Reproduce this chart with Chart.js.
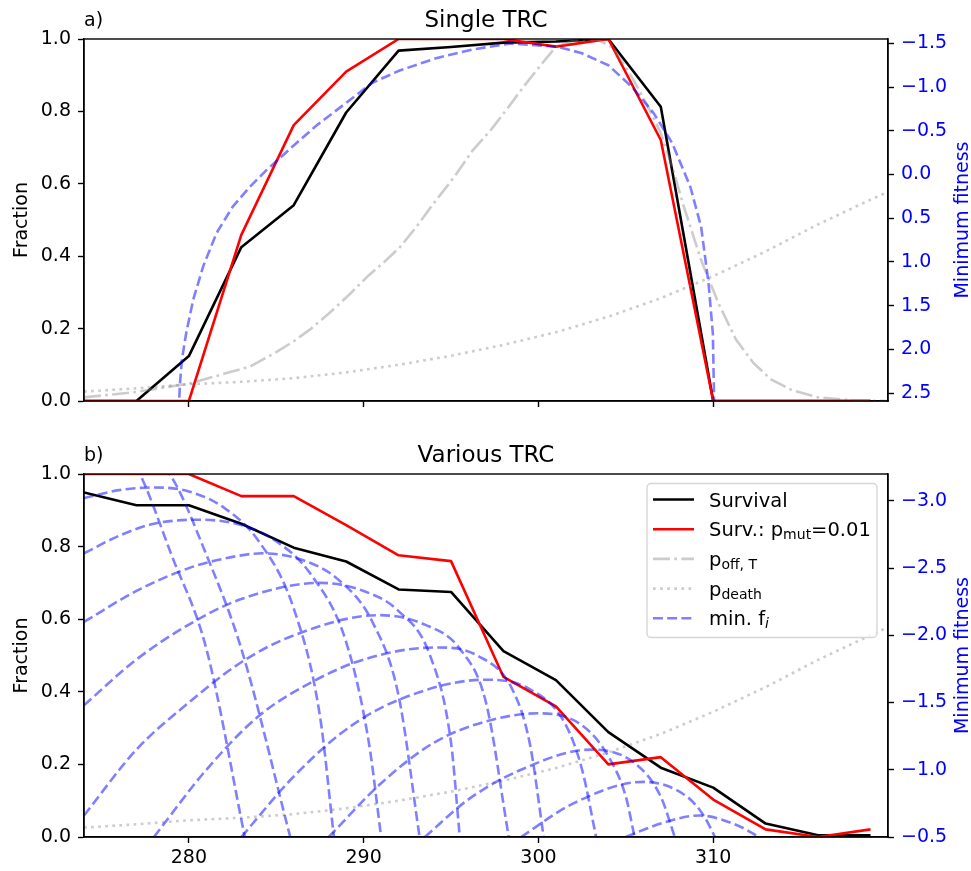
<!DOCTYPE html>
<html>
<head>
<meta charset="utf-8">
<script src="https://cdn.jsdelivr.net/npm/chart.js@4.4.1/dist/chart.umd.min.js"></script>
<style>
  body { margin: 0; background: #fff; }
  #wrap { position: relative; width: 971px; height: 871px; }
  #chartA { position: absolute; left: 0; top: 0; }
  #chartB { position: absolute; left: 0; top: 430px; }
</style>
</head>
<body>
<div id="wrap">
  <canvas id="chartA" width="971" height="430"></canvas>
  <canvas id="chartB" width="971" height="441"></canvas>
</div>
<script>
// temperatures of the survival runs (K)
var temps = [274, 277, 280, 283, 286, 289, 292, 295, 298, 301, 304, 307, 310, 313, 316, 319];

// a) single TRC
var survivalA = [0, 0, 0.124, 0.425, 0.541, 0.797, 0.968, 0.978, 0.99, 0.993, 1.0, 0.813, 0, 0, 0, 0];
var survMutA  = [0, 0, 0, 0.459, 0.762, 0.91, 1, 1, 1, 0.979, 1, 0.721, 0, 0, 0, 0];

// b) various TRC
var survivalB = [0.949, 0.914, 0.914, 0.863, 0.797, 0.759, 0.682, 0.675, 0.512, 0.432, 0.289, 0.191, 0.136, 0.037, 0.005, 0.005];
var survMutB  = [1, 1, 1, 0.939, 0.939, 0.859, 0.776, 0.76, 0.441, 0.36, 0.2, 0.22, 0.103, 0.021, 0.0, 0.021];

// offspring probability p_off,T
var pOffTemps = [274, 277, 280, 282, 283.5, 285, 286, 287, 288.2, 289.2, 290.2, 291.2, 292.1, 293, 294.1, 295.2, 296.2, 297.3, 298.3, 299.1, 299.9, 301, 302, 303.3, 304.3, 305.4, 306.2, 307, 307.7, 308.3, 309.3, 310.3, 311.3, 312.3, 313.3, 314.5, 316, 318, 320];
var pOff      = [0.01, 0.025, 0.048, 0.075, 0.095, 0.135, 0.165, 0.2, 0.25, 0.295, 0.343, 0.385, 0.426, 0.48, 0.552, 0.62, 0.69, 0.75, 0.813, 0.865, 0.914, 0.979, 0.995, 1.0, 0.975, 0.89, 0.82, 0.74, 0.64, 0.54, 0.39, 0.27, 0.17, 0.105, 0.06, 0.03, 0.01, 0.002, 0];

// death probability p_death
var pDeathTemps = [274, 277, 280, 283, 286, 289, 292, 295, 298, 301, 304, 307, 310, 313, 316, 319, 320];
var pDeath      = [0.026, 0.035, 0.046, 0.053, 0.063, 0.079, 0.1, 0.125, 0.155, 0.19, 0.233, 0.284, 0.345, 0.413, 0.488, 0.556, 0.578];

// a) minimum fitness of the single TRC
var minFitTempsA = [279.3, 279.49, 279.6, 279.85, 280.25, 280.82, 281.58, 282.5, 283.49, 284.44, 285.93, 287.3, 289.0, 290.5, 292.06, 294.14, 296.22, 298.4, 301.1, 302.45, 304.0, 305.36, 306.6, 307.65, 308.69, 309.31, 309.73, 309.98, 310.06, 310.1];
var minFitA      = [3.2, 2.39, 2.12, 1.81, 1.43, 1.05, 0.67, 0.37, 0.14, -0.05, -0.32, -0.56, -0.82, -1.05, -1.19, -1.33, -1.43, -1.5, -1.46, -1.39, -1.25, -1.0, -0.7, -0.36, 0.14, 0.6, 1.24, 1.82, 2.7, 3.2];

// b) minimum fitness of each TRC, [T, f] pairs
var minFitCurvesB = [
  [[274, -3.6], [276, -3.45], [277.2, -3.2], [279, -2.6], [281, -1.9], [283.2, -0.5]],
  [[276, -3.5], [278.9, -3.2], [281, -2.6], [283, -1.9], [285.8, -0.5]],
  [[274, -3.02], [276, -3.08], [278, -3.1], [280, -3.07], [282, -2.95], [284, -2.7], [286, -2.2], [287.5, -1.4], [288.3, -0.5]],
  [[274, -2.61], [276, -2.74], [278, -2.83], [280.6, -2.86], [283, -2.82], [285, -2.7], [287, -2.45], [289, -1.95], [290.3, -1.2], [291, -0.5]],
  [[274, -2.1], [277, -2.33], [280, -2.5], [282, -2.57], [284.2, -2.61], [286.5, -2.56], [288.5, -2.42], [290.5, -2.1], [292, -1.55], [293.2, -0.5]],
  [[274, -1.48], [277, -1.82], [280, -2.08], [283, -2.27], [287.5, -2.39], [290, -2.33], [292, -2.18], [293.8, -1.85], [295, -1.2], [295.5, -0.5]],
  [[274, -0.66], [277, -1.15], [280, -1.5], [283, -1.8], [286, -2.0], [290.9, -2.15], [293.5, -2.08], [295.5, -1.9], [297, -1.5], [298.3, -0.5]],
  [[278, -0.5], [281, -1.0], [284, -1.4], [287, -1.65], [290, -1.82], [294.1, -1.91], [296.5, -1.85], [298.5, -1.6], [299.5, -1.2], [300.3, -0.5]],
  [[283, -0.5], [286, -0.95], [289, -1.3], [292, -1.52], [297, -1.67], [299.5, -1.6], [301.5, -1.35], [302.5, -1.0], [303.3, -0.5]],
  [[288, -0.5], [291, -0.9], [294, -1.2], [297, -1.36], [300, -1.42], [302.5, -1.33], [304, -1.1], [305, -0.8], [305.5, -0.5]],
  [[293.5, -0.5], [296, -0.78], [299, -1.0], [303, -1.15], [305.5, -1.05], [307, -0.8], [307.8, -0.5]],
  [[299, -0.5], [302, -0.75], [306, -0.91], [308.5, -0.8], [309.5, -0.65], [310.1, -0.5]],
  [[305, -0.5], [307, -0.6], [309.2, -0.66], [311.5, -0.58], [312.6, -0.5]]
];

var tempTicks = [280, 290, 300, 310];
var fracTicks = [0, 0.2, 0.4, 0.6, 0.8, 1.0];
var fitTicksA = [-1.5, -1.0, -0.5, 0, 0.5, 1.0, 1.5, 2.0, 2.5];
var fitTicksB = [-3.0, -2.5, -2.0, -1.5, -1.0, -0.5];

var FONT = "'DejaVu Sans', sans-serif";
var TICK_PX = 19;
var BLUE = 'rgba(0,0,255,0.5)';
var GREY = 'rgba(128,128,128,0.4)';
var LW = 2.6;
var DASHED = [9.9, 4.3], DASHDOT = [17, 4.3, 2.7, 4.3], DOTTED = [2.7, 4.4];

function pts(xs, ys) { return xs.map(function (x, i) { return {x: x, y: ys[i]}; }); }
function pairs(list) { return list.map(function (p) { return {x: p[0], y: p[1]}; }); }

function line(data, color, dash, axis, order) {
  return {
    data: data, borderColor: color, borderWidth: LW, borderDash: dash || [],
    borderCapStyle: 'butt', borderJoinStyle: 'round',
    pointRadius: 0, tension: 0, fill: false, yAxisID: axis, order: order
  };
}

// smooth arc through the read points
function arc(data) {
  var d = line(data, BLUE, DASHED, 'y2', 0);
  d.cubicInterpolationMode = 'monotone';
  return d;
}

function fmt(v) { return (v < 0 ? '\u2212' : '') + Math.abs(v).toFixed(1); }

function tickGrid() {
  return { display: true, drawOnChartArea: false, drawTicks: true, tickLength: 6, tickWidth: 1.4, tickColor: '#000' };
}

function xScale(height, showLabels) {
  return {
    type: 'linear', min: 274, max: 320,
    afterBuildTicks: function (s) { s.ticks = tempTicks.map(function (v) { return {value: v}; }); },
    afterFit: function (s) { s.height = height; },
    ticks: { display: showLabels, font: {family: FONT, size: TICK_PX}, color: '#000', padding: 4, maxRotation: 0,
             callback: function (v) { return String(v); } },
    grid: tickGrid(),
    border: { display: true, color: '#000', width: 1.4 }
  };
}

function fracScale() {
  return {
    type: 'linear', position: 'left', min: 0, max: 1,
    afterBuildTicks: function (s) { s.ticks = fracTicks.map(function (v) { return {value: v}; }); },
    afterFit: function (s) { s.width = 84; },
    ticks: { font: {family: FONT, size: TICK_PX}, color: '#000', padding: 7,
             callback: function (v) { return v.toFixed(1); } },
    grid: tickGrid(),
    border: { display: true, color: '#000', width: 1.4 }
  };
}

function fitScale(min, max, ticks) {
  return {
    type: 'linear', position: 'right', min: min, max: max, reverse: true,
    afterBuildTicks: function (s) { s.ticks = ticks.map(function (v) { return {value: v}; }); },
    afterFit: function (s) { s.width = 83; },
    ticks: { font: {family: FONT, size: TICK_PX}, color: '#0000ff', padding: 7, callback: fmt },
    grid: tickGrid(),
    border: { display: true, color: '#000', width: 1.4 }
  };
}

// legend entries: line style + text pieces (sub = subscript)
var legendItems = [
  { color: '#000', dash: [], parts: [{t: 'Survival'}] },
  { color: '#ff0000', dash: [], parts: [{t: 'Surv.: p'}, {t: 'mut', sub: true}, {t: '=0.01'}] },
  { color: GREY, dash: DASHDOT, parts: [{t: 'p'}, {t: 'off, T', sub: true}] },
  { color: GREY, dash: DOTTED, parts: [{t: 'p'}, {t: 'death', sub: true}] },
  { color: BLUE, dash: DASHED, parts: [{t: 'min. f'}, {t: 'i', sub: true, it: true}] }
];

function drawLegend(ctx, a) {
  var w = 230, h = 154;
  var x0 = a.right - 11 - w, y0 = a.top + 9.5;
  ctx.save();
  ctx.beginPath();
  if (ctx.roundRect) ctx.roundRect(x0, y0, w, h, 4); else ctx.rect(x0, y0, w, h);
  ctx.fillStyle = 'rgba(255,255,255,0.8)';
  ctx.fill();
  ctx.strokeStyle = '#d6d6d6';
  ctx.lineWidth = 1.4;
  ctx.stroke();
  legendItems.forEach(function (it, i) {
    var y = y0 + 16 + i * 29.7;
    ctx.beginPath();
    ctx.setLineDash(it.dash);
    ctx.strokeStyle = it.color;
    ctx.lineWidth = LW;
    ctx.lineCap = 'butt';
    ctx.moveTo(x0 + 6, y);
    ctx.lineTo(x0 + 47, y);
    ctx.stroke();
    ctx.setLineDash([]);
    var x = x0 + 62;
    ctx.fillStyle = '#000';
    ctx.textAlign = 'left';
    ctx.textBaseline = 'alphabetic';
    it.parts.forEach(function (p) {
      ctx.font = (p.it ? 'italic ' : '') + (p.sub ? '14px ' : '19.5px ') + FONT;
      ctx.fillText(p.t, x, y + 7 + (p.sub ? 3 : 0));
      x += ctx.measureText(p.t).width;
    });
  });
  ctx.restore();
}

function vtext(ctx, text, x, y, color) {
  ctx.save();
  ctx.translate(x, y);
  ctx.rotate(-Math.PI / 2);
  ctx.fillStyle = color;
  ctx.font = TICK_PX + 'px ' + FONT;
  ctx.textAlign = 'center';
  ctx.textBaseline = 'middle';
  ctx.fillText(text, 0, 0);
  ctx.restore();
}

// panel frame, titles, axis labels and legend
var decor = {
  id: 'decor',
  afterDraw: function (chart, args, o) {
    var ctx = chart.ctx, a = chart.chartArea;
    ctx.save();
    ctx.strokeStyle = '#000';
    ctx.lineWidth = 1.4;
    ctx.strokeRect(a.left, a.top, a.right - a.left, a.bottom - a.top);
    ctx.fillStyle = '#000';
    ctx.textBaseline = 'alphabetic';
    ctx.font = TICK_PX + 'px ' + FONT;
    ctx.textAlign = 'left';
    ctx.fillText(o.tag, a.left, a.top - 13);
    ctx.font = '23px ' + FONT;
    ctx.textAlign = 'center';
    ctx.fillText(o.title, (a.left + a.right) / 2, a.top - 12);
    ctx.restore();
    var cy = (a.top + a.bottom) / 2;
    vtext(ctx, 'Fraction', 22, cy, '#000');
    vtext(ctx, 'Minimum fitness', 963, cy, '#0000ff');
    if (o.legend) drawLegend(ctx, a);
  }
};

function baseOptions(padTop, xHeight, showX, fitMin, fitMax, fitTicks, tag, title, legend) {
  return {
    responsive: false, animation: false, devicePixelRatio: 1, events: [],
    layout: { padding: { top: padTop, left: 0, right: 0, bottom: 0 } },
    scales: { x: xScale(xHeight, showX), y: fracScale(), y2: fitScale(fitMin, fitMax, fitTicks) },
    plugins: { legend: { display: false }, tooltip: { enabled: false },
               decor: { tag: tag, title: title, legend: legend } }
  };
}

new Chart(document.getElementById('chartA'), {
  type: 'line',
  data: { datasets: [
    line(pts(temps, survivalA), '#000', [], 'y', 3),
    line(pts(temps, survMutA), '#ff0000', [], 'y', 2),
    line(pts(pOffTemps, pOff), GREY, DASHDOT, 'y', 1),
    line(pts(pDeathTemps, pDeath), GREY, DOTTED, 'y', 1),
    line(pts(minFitTempsA, minFitA), BLUE, DASHED, 'y2', 0)
  ] },
  options: baseOptions(39, 29, false, -1.55, 2.59, fitTicksA, 'a)', 'Single TRC', false),
  plugins: [decor]
});

var setsB = [
  line(pts(temps, survivalB), '#000', [], 'y', 3),
  line(pts(temps, survMutB), '#ff0000', [], 'y', 2),
  line(pts(pDeathTemps, pDeath), GREY, DOTTED, 'y', 1)
];
minFitCurvesB.forEach(function (c) { setsB.push(arc(pairs(c))); });

new Chart(document.getElementById('chartB'), {
  type: 'line',
  data: { datasets: setsB },
  options: baseOptions(44, 34, true, -3.2, -0.5, fitTicksB, 'b)', 'Various TRC', true),
  plugins: [decor]
});
</script>
</body>
</html>
